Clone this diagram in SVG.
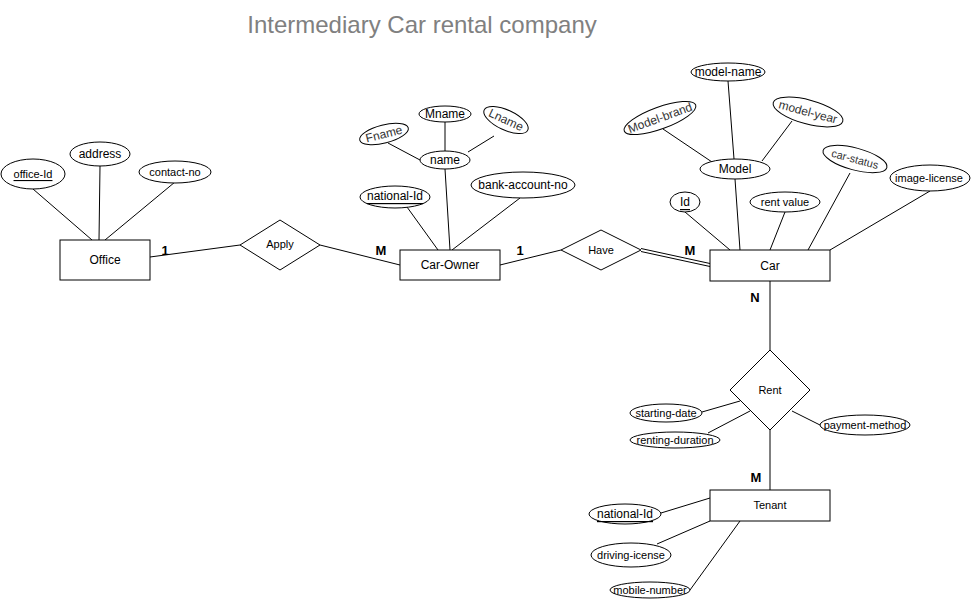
<svg xmlns="http://www.w3.org/2000/svg" width="971" height="601" viewBox="0 0 971 601">
<style>
.e{fill:#fff;stroke:#000;stroke-width:1}
.r{fill:#fff;stroke:#000;stroke-width:1}
.l{stroke:#000;stroke-width:1;fill:none}
text{font-family:"Liberation Sans",Arial,sans-serif;font-size:11px;fill:#000;text-anchor:middle;dominant-baseline:central}
.t12{font-size:12px}
.b{font-weight:bold;font-size:13px}
.u{text-decoration:underline}
.title{font-size:24px;fill:#808080}
.g{fill:#333}
</style>
<rect width="971" height="601" fill="#fff"/>
<text class="title" x="422" y="24">Intermediary Car rental company</text>
<g id="connectors">
<line class="l" x1="33" y1="189" x2="92" y2="240"/>
<line class="l" x1="100" y1="166" x2="99" y2="240"/>
<line class="l" x1="175" y1="182" x2="105" y2="240"/>
<line class="l" x1="150" y1="257" x2="240" y2="245"/>
<line class="l" x1="320" y1="245" x2="400" y2="265"/>
<line class="l" x1="388" y1="143" x2="420" y2="160"/>
<line class="l" x1="445" y1="122" x2="445" y2="151"/>
<line class="l" x1="468" y1="152" x2="494" y2="136"/>
<line class="l" x1="445" y1="169" x2="450" y2="250"/>
<line class="l" x1="407" y1="207" x2="438" y2="250"/>
<line class="l" x1="520" y1="198" x2="452" y2="250"/>
<line class="l" x1="500" y1="265" x2="561" y2="250"/>
<line class="l" x1="641" y1="248.5" x2="710" y2="263.5"/>
<line class="l" x1="641" y1="251.5" x2="710" y2="266.5"/>
<line class="l" x1="663" y1="129" x2="712" y2="162"/>
<line class="l" x1="728" y1="81" x2="734" y2="159"/>
<line class="l" x1="792" y1="121" x2="762" y2="161"/>
<line class="l" x1="735" y1="179" x2="740" y2="250"/>
<line class="l" x1="685" y1="212" x2="730" y2="250"/>
<line class="l" x1="785" y1="212" x2="770" y2="250"/>
<line class="l" x1="850" y1="173" x2="808" y2="250"/>
<line class="l" x1="930" y1="191" x2="830" y2="250"/>
<line class="l" x1="770" y1="281" x2="770" y2="350"/>
<line class="l" x1="702" y1="412" x2="740" y2="401"/>
<line class="l" x1="708" y1="433" x2="750" y2="411"/>
<line class="l" x1="820" y1="425" x2="792" y2="411"/>
<line class="l" x1="770" y1="430" x2="770" y2="490"/>
<line class="l" x1="661" y1="513" x2="710" y2="498"/>
<line class="l" x1="657" y1="544" x2="710" y2="521"/>
<line class="l" x1="690" y1="590" x2="740" y2="521"/>
<text class="b" x="165" y="250">1</text>
<text class="b" x="381" y="250">M</text>
<text class="b" x="520" y="250">1</text>
<text class="b" x="690" y="250">M</text>
<text class="b" x="755" y="297">N</text>
<text class="b" x="756" y="477">M</text>
</g>
<g id="office"><rect class="r" x="60" y="240" width="90" height="40"/><text class="t12" x="105" y="260">Office</text></g>
<g id="office-id"><ellipse class="e" cx="33" cy="174" rx="32" ry="15"/><text class="u" x="33" y="174">office-Id</text></g>
<g id="address"><ellipse class="e" cx="100" cy="154" rx="30" ry="12"/><text class="t12" x="100" y="154">address</text></g>
<g id="contact-no"><ellipse class="e" cx="175" cy="172" rx="36" ry="11"/><text x="175" y="172">contact-no</text></g>
<g id="apply"><polygon class="r" points="280,220 320,245 280,270 240,245"/><text x="280" y="244">Apply</text></g>
<g id="car-owner"><rect class="r" x="400" y="250" width="100" height="30"/><text class="t12" x="450" y="265">Car-Owner</text></g>
<g id="owner-national-id"><ellipse class="e" cx="395" cy="197" rx="35" ry="11"/><text class="u t12" x="395" y="196">national-Id</text></g>
<g id="name"><ellipse class="e" cx="445" cy="160" rx="25" ry="9"/><text class="t12" x="445" y="160">name</text></g>
<g id="fname"><ellipse class="e" cx="384" cy="134" rx="25" ry="9" transform="rotate(-14 384 134)"/><text class="t12 g" x="384" y="134" transform="rotate(-14 384 134)">Fname</text></g>
<g id="mname"><ellipse class="e" cx="445" cy="114" rx="26" ry="8"/><text class="t12" x="445" y="114">Mname</text></g>
<g id="lname"><ellipse class="e" cx="506" cy="120" rx="24" ry="10" transform="rotate(25 506 120)"/><text class="t12 g" x="506" y="120" transform="rotate(25 506 120)">Lname</text></g>
<g id="bank-account-no"><ellipse class="e" cx="523" cy="185" rx="52" ry="13"/><text class="t12" x="523" y="185">bank-account-no</text></g>
<g id="have"><polygon class="r" points="601,230 641,250 601,270 561,250"/><text x="601" y="250">Have</text></g>
<g id="car"><rect class="r" x="710" y="250" width="120" height="31"/><text class="t12" x="770" y="266">Car</text></g>
<g id="model"><ellipse class="e" cx="735" cy="169" rx="35" ry="10"/><text class="t12" x="735" y="169">Model</text></g>
<g id="model-name"><ellipse class="e" cx="728" cy="72" rx="37" ry="9"/><text class="t12" x="728" y="72">model-name</text></g>
<g id="model-brand"><ellipse class="e" cx="660" cy="118" rx="38" ry="11" transform="rotate(-20 660 118)"/><text class="t12 g" x="660" y="118" transform="rotate(-20 660 118)">Model-brand</text></g>
<g id="model-year"><ellipse class="e" cx="808" cy="112" rx="36" ry="12" transform="rotate(15 808 112)"/><text class="t12 g" x="808" y="112" transform="rotate(15 808 112)">model-year</text></g>
<g id="car-status"><ellipse class="e" cx="855" cy="159" rx="33" ry="11" transform="rotate(15 855 159)"/><text class="g" x="855" y="159" transform="rotate(15 855 159)">car-status</text></g>
<g id="image-license"><ellipse class="e" cx="930" cy="178" rx="40" ry="13"/><text x="929" y="178">image-license</text></g>
<g id="car-id"><ellipse class="e" cx="685" cy="202" rx="15" ry="10"/><text class="u t12" x="685" y="202">Id</text></g>
<g id="rent-value"><ellipse class="e" cx="785" cy="202" rx="35" ry="10"/><text x="785" y="202">rent value</text></g>
<g id="rent"><polygon class="r" points="770,350 810,390 770,430 730,390"/><text x="770" y="390">Rent</text></g>
<g id="starting-date"><ellipse class="e" cx="666" cy="413" rx="36" ry="9"/><text x="666" y="413">starting-date</text></g>
<g id="renting-duration"><ellipse class="e" cx="675" cy="440" rx="45" ry="8"/><text x="675" y="440">renting-duration</text></g>
<g id="payment-method"><ellipse class="e" cx="865" cy="425" rx="45" ry="10"/><text x="865" y="425">payment-method</text></g>
<g id="tenant"><rect class="r" x="710" y="490" width="120" height="31"/><text x="770" y="505">Tenant</text></g>
<g id="tenant-national-id"><ellipse class="e" cx="625" cy="514" rx="36" ry="10"/><text class="u t12" x="625" y="514">national-Id</text></g>
<g id="driving-icense"><ellipse class="e" cx="631" cy="555" rx="40" ry="12"/><text x="631" y="555">driving-icense</text></g>
<g id="mobile-number"><ellipse class="e" cx="650" cy="590" rx="40" ry="8"/><text x="650" y="590">mobile-number</text></g>
</svg>
